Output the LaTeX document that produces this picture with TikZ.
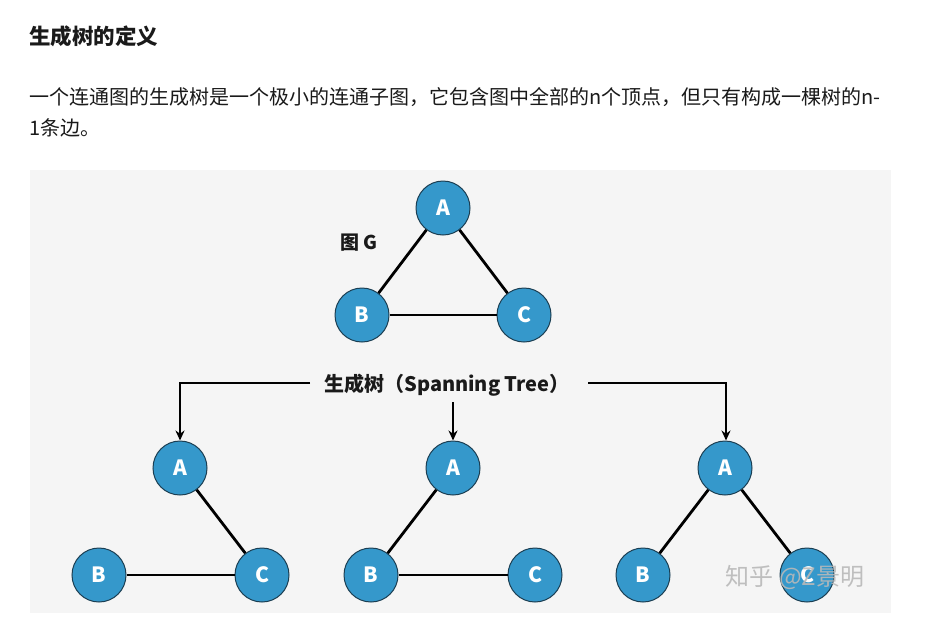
\documentclass[tikz,border=0pt]{standalone}
\usepackage{fontspec}
\setmainfont{Noto Sans CJK SC}
\usetikzlibrary{arrows.meta}
\definecolor{panel}{HTML}{F5F5F5}
\definecolor{vfill}{HTML}{3598CB}
\definecolor{vedge}{HTML}{1B3E52}
\definecolor{txt}{HTML}{1A1A1A}
\tikzset{
  vert/.style={circle,draw=vedge,line width=1pt,fill=vfill,minimum size=54pt,inner sep=0pt,
     text=white,font=\fontsize{21}{21}\selectfont\bfseries},
  edge/.style={line width=2.8pt,draw=black},
  arr/.style={line width=2.6pt,-{Stealth[length=10pt,width=9pt]}},
  bar/.style={line width=2.6pt},
}
\begin{document}
\begin{tikzpicture}[x=1pt,y=-1pt]
\useasboundingbox (0,0) rectangle (936,632);
\fill[white] (0,0) rectangle (936,632);
\fill[panel] (30,170) rectangle (891,613);
% heading and paragraph
\node[anchor=west,inner sep=0pt,text=txt,font=\fontsize{21.5}{21.5}\selectfont\bfseries] (title) at (29,36) {生成树的定义};
\node[anchor=west,inner sep=0pt,text=txt,font=\fontsize{20}{20}\selectfont] (p1) at (29,97) {一个连通图的生成树是一个极小的连通子图，它包含图中全部的n个顶点，但只有构成一棵树的n-};
\node[anchor=west,inner sep=0pt,text=txt,font=\fontsize{20}{20}\selectfont] (p2) at (29,128) {1条边。};
% graph G
\node[vert] (GA) at (443,208) {A};
\node[vert] (GB) at (362,315) {B};
\node[vert] (GC) at (524,315) {C};
\draw[edge] (GA) -- (GB);
\draw[edge] (GA) -- (GC);
\draw[edge] (GB) -- (GC);
\node[font=\fontsize{19}{19}\selectfont\bfseries,text=txt] (glabel) at (359,243) {图 G};
% spanning tree label
\node[font=\fontsize{20}{20}\selectfont\bfseries,text=txt,inner sep=0pt] (st) at (447,385) {生成树（Spanning Tree）};
\coordinate (lbarL) at (310,383);
\coordinate (lcorner) at (180,383);
\coordinate (rbarR) at (588,383);
\coordinate (rcorner) at (726,383);
\coordinate (mtop) at (453,402);
% trees
\node[vert] (T1A) at (180,468) {A};
\node[vert] (T1B) at (99,575) {B};
\node[vert] (T1C) at (262,575) {C};
\node[vert] (T2A) at (453,468) {A};
\node[vert] (T2B) at (371,575) {B};
\node[vert] (T2C) at (535,575) {C};
\node[vert] (T3A) at (725,468) {A};
\node[vert] (T3B) at (643,575) {B};
\node[vert] (T3C) at (807,575) {C};
\draw[edge] (T1A) -- (T1C);
\draw[edge] (T1B) -- (T1C);
\draw[edge] (T2A) -- (T2B);
\draw[edge] (T2B) -- (T2C);
\draw[edge] (T3A) -- (T3B);
\draw[edge] (T3A) -- (T3C);
% arrows
\draw[bar] (lbarL) -- ([xshift=-1.3pt]lcorner);
\draw[arr] ([yshift=-1.3pt]lcorner) -- (T1A.north);
\draw[arr] (mtop) -- (T2A.north);
\draw[bar] (rbarR) -- ([xshift=1.3pt]rcorner);
\draw[arr] ([yshift=-1.3pt]rcorner) -- ([xshift=1pt]T3A.north);
% watermark
\node[font=\fontsize{24}{24}\selectfont,text=gray!55,opacity=0.9] (wm) at (795,577) {知乎 @Z景明};
\end{tikzpicture}
\end{document}
